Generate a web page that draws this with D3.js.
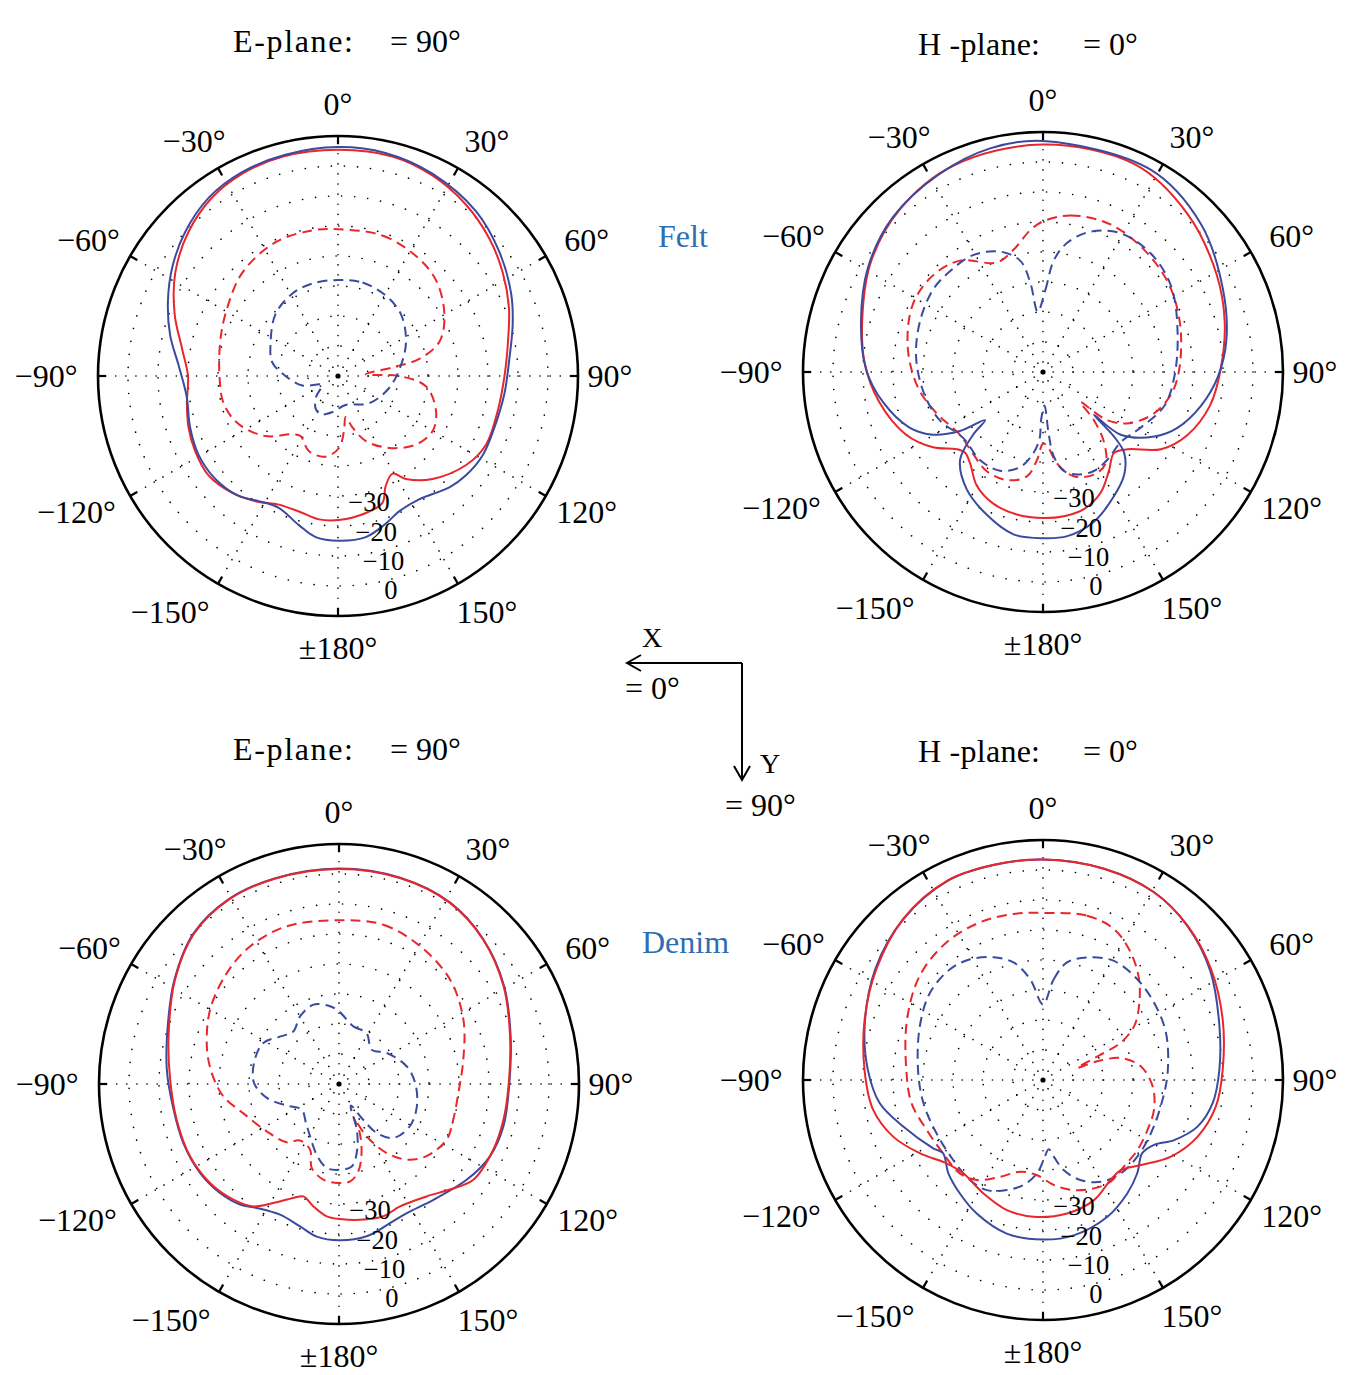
<!DOCTYPE html>
<html><head><meta charset="utf-8">
<script src="https://cdn.jsdelivr.net/npm/d3@7"></script>
<style>body{margin:0;background:#fff}svg{display:block}</style>
</head><body>
<svg id="chart" width="1364" height="1375"></svg>
<script>
// ---------- axis / tick data ----------
const dbDomain = [-70, 10];
const ringValues = [-60, -50, -40, -30, -20, -10, 0];
const ringLabelValues = [-30, -20, -10, 0];
const ringLabelText = ["\u221230", "\u221220", "\u221210", "0"];
const spokeAngles = [0, 30, 60, 90, 120, 150, 180, 210, 240, 270, 300, 330];
const spokeLabels = ["0\u00b0", "30\u00b0", "60\u00b0", "90\u00b0", "120\u00b0", "150\u00b0", "\u00b1180\u00b0", "\u2212150\u00b0", "\u2212120\u00b0", "\u221290\u00b0", "\u221260\u00b0", "\u221230\u00b0"];

// ---------- Felt, E-plane ----------
const feltE_redSolid_theta = [0,13.9,25.2,36.7,47.9,58.0,68.1,78.6,90,102.1,114.9,124.8,137.4,146.6,150.8,156.5,160.7,168.5,179.6,187.5,196.1,204.7,213.4,222.3,232.5,242.2,251.0,259.7,270,280,290.7,302.3,313.9,324.8,334.6,345.7];
const feltE_redSolid_dB = [5.4,5.4,3.9,1.3,-1.9,-5.2,-8.6,-12.2,-14.5,-15.5,-15.6,-18.0,-23.4,-28.9,-32.7,-30.1,-25.2,-23.4,-22.0,-21.8,-23.0,-22.8,-20.0,-17.4,-15.6,-16.2,-17.3,-18.8,-20.0,-17.2,-11.8,-5.8,-0.8,2.8,4.6,5.4];
const feltE_blueSolid_theta = [0,12,25.0,40.0,52.6,64.6,73.6,84.3,95.9,108.2,118.6,127.8,135,146.7,155.7,162.0,170.2,179.7,187.9,194.7,204.2,212.4,219.6,230,240.5,250.8,262.2,273.7,283.7,293.9,303.6,313.3,324,334.8,346.6];
const feltE_blueSolid_dB = [6.3,6.0,4.4,1.6,-2.2,-6.1,-9.3,-12.6,-14.2,-15.1,-15.0,-16.0,-17.5,-20.8,-20.5,-18.3,-15.5,-15.1,-15.8,-18.6,-21.8,-20.6,-18.1,-16.6,-16.6,-17.8,-19.1,-16.8,-12.4,-8.0,-3.8,0.0,3.4,5.1,5.8];
const feltE_redDash_theta = [0,17.5,33.0,45.6,59.9,71.3,78.1,81.0,86.5,90,96.7,109.3,120.2,131.4,144.6,156.8,164.3,169.4,173.8,179.2,188.8,201.1,212,218.2,230.4,244.2,256.5,270,286.3,298.7,317,335,350];
const feltE_redDash_dB = [-21.1,-20.9,-22.3,-24.3,-29.0,-34.3,-42.3,-51.6,-60.7,-49.6,-40.5,-35.4,-33.5,-35.4,-40.6,-46.4,-52.2,-56.1,-51.6,-46.0,-42.8,-43.1,-46.4,-45.3,-38.6,-33.2,-30.8,-30.5,-29.1,-27.2,-23.1,-20.8,-20.7];
const feltE_blueDash_theta = [0,14.7,30.6,45.5,63.2,80.7,103.2,131.3,165.2,189,204.3,214.4,226.6,241.4,255,270,281.8,297,314.7,330.9,344.5];
const feltE_blueDash_dB = [-38.0,-37.8,-38.8,-40.6,-44.6,-48.8,-52.5,-56.2,-60.0,-57.8,-56.0,-56.8,-60.0,-63.8,-57.7,-52.5,-47.6,-44.8,-40.7,-38.6,-38.0];

// ---------- Felt, H-plane ----------
const feltH_redSolid_theta = [0,23.9,42.4,60.6,74.7,89.2,101.3,113.4,123.2,132.4,138.7,146.3,154.5,163.4,171.8,179.7,190.4,200.7,210.3,218.5,224,228.2,235.6,245.4,259.6,273.2,288.5,302.9,318.5,336.6];
const feltH_redSolid_dB = [5.8,5.7,1.4,-3.6,-7.2,-10.8,-13.2,-17.4,-23.0,-31.8,-34.1,-30.4,-25.4,-22.3,-21.4,-21.3,-21.7,-23.1,-26.2,-31.0,-32.6,-31.4,-25.6,-19.8,-14.5,-10.4,-6.6,-1.8,2.2,5.0];
const feltH_blueSolid_theta = [0,27.9,47.0,65.4,80.3,91.6,102,112.4,120.1,128.9,130,132.3,134.9,141.6,150.3,161.2,171.6,179.8,190.3,201.6,213.1,223.3,228.1,230.3,234.6,240.3,247.4,259.4,270.9,285.3,300.7,315.9,332.5,346.7];
const feltH_blueSolid_dB = [7.0,6.4,2.1,-4.0,-8.0,-11.7,-16.1,-21.4,-27.1,-36.7,-47.8,-38.0,-31.8,-26.4,-22.3,-17.3,-14.7,-14.6,-15.0,-18.9,-23.4,-29.7,-38.7,-44.9,-36.0,-27.8,-21.8,-15.7,-11.0,-7.1,-2.1,1.9,4.5,6.6];
const feltH_redDash_theta = [0,10,24.6,41.4,57.3,75.7,96.8,110.2,120.7,126.9,128.7,133.5,139,145.7,153.6,163.6,171.2,176.8,180,183.9,188.8,198.5,209.7,223.4,233,249,262.9,280.2,297.5,311.3,323.3,337.1,346.4,354.9];
const feltH_redDash_dB = [-19.8,-17.0,-15.9,-17.3,-19.2,-22.5,-25.9,-30.4,-36.6,-43.2,-54.0,-46.6,-39.0,-33.0,-31.8,-33.8,-39.1,-45.4,-46.1,-40.6,-34.8,-32.0,-32.0,-34.6,-35.3,-31.9,-28.0,-24.2,-21.1,-21.2,-23.7,-30.4,-28.1,-22.5];
const feltH_blueDash_theta = [355,1.7,5.5,10.6,18.7,29.3,42.3,56.2,73.9,92.1,105.5,119.5,132,143.9,152.8,161.6,168.1,172.7,174.7,177.5,182.3,182.9,186.6,193.5,203.5,215.6,230.3,245,259.1,276,291.9,306.8,317.1,329.1,340.4,348.4,351.9];
const feltH_blueDash_dB = [-49.8,-42.6,-32.7,-26.2,-20.6,-17.0,-16.6,-18.6,-23.3,-26.2,-28.0,-32.5,-35.1,-33.7,-32.9,-34.0,-36.3,-41.6,-49.0,-58.8,-53.9,-47.9,-42.9,-37.4,-34.1,-33.9,-35.5,-32.0,-29.8,-27.5,-25.7,-24.2,-24.3,-24.6,-27.4,-32.1,-39.8];

// ---------- Denim, E-plane ----------
const denimE_redSolid_theta = [0,16.5,31.5,45,59.3,74.4,90.8,102.3,113.1,125.5,133.6,142.1,153.5,161.4,171.2,179.6,185.3,191.8,197.6,201.8,208.9,215,222.4,232.5,244.1,257.6,271.5,285.6,302.5,316,329.1,342.6];
const denimE_redSolid_dB = [1.7,1.6,0.8,-2.0,-6.2,-10.8,-13.5,-13.9,-14.1,-15.0,-19.0,-22.5,-24.4,-23.5,-24.2,-25.0,-25.7,-28.3,-30.7,-29.1,-24.7,-20.2,-17.8,-15.8,-14.8,-14.6,-13.7,-11.0,-5.2,-0.4,1.6,1.7];
const denimE_blueSolid_theta = [0,16.5,31.5,45,59.3,74.4,90.8,104.4,115.6,126.9,140.8,152.3,159.9,169.7,180,188.3,195.3,204.3,213.6,219.4,227.5,237.4,249.2,261.2,274.8,290.6,302.5,316,329.1,342.6];
const denimE_blueSolid_dB = [1.8,1.7,0.9,-1.9,-6.0,-10.6,-13.3,-13.4,-14.2,-16.8,-20.2,-21.4,-20.6,-18.4,-17.9,-18.6,-20.8,-22.2,-20.4,-18.0,-16.2,-15.0,-14.5,-14.2,-12.4,-9.2,-5.0,-0.2,1.7,1.8];
const denimE_redDash_theta = [0,15.6,30.5,46.8,62.6,79,94.3,107.4,117.3,129.5,138.2,145.3,152.2,156.4,156.7,161.9,167.5,173.5,180.4,189.3,198,203.8,214.7,221.9,236.8,253.1,264,275,285.9,300,314.7,327.1,341.6];
const denimE_redDash_dB = [-15.4,-14.9,-16.7,-19.2,-23.3,-27.8,-30.1,-30.1,-29.6,-32.2,-36.2,-42.0,-50.3,-58.0,-52.8,-45.8,-40.2,-37.3,-37.0,-37.7,-40.6,-46.1,-47.1,-43.9,-41.2,-36.6,-31.2,-27.4,-24.2,-20.4,-17.4,-15.4,-14.6];
const denimE_blueDash_theta = [0,14,28.4,43.6,57,75.3,89.3,106,120.8,134.9,142.4,145.9,151.4,158.7,164.5,171.2,180,188.3,197.6,209,220,235.6,247.6,259.1,270.6,283.9,298.5,309.8,319,330,342.1,353.4];
const denimE_blueDash_dB = [-45.8,-50.2,-50.7,-54.2,-51.0,-46.7,-44.6,-43.0,-42.5,-44.5,-49.4,-55.6,-61.8,-53.7,-47.3,-42.2,-41.4,-41.7,-45.3,-50.1,-52.9,-54.9,-51.1,-45.5,-41.7,-40.8,-41.3,-45.1,-46.8,-44.0,-42.2,-43.9];

// ---------- Denim, H-plane ----------
const denimH_redSolid_theta = [0,16.1,30.6,43.1,56.6,71.4,86.7,98.7,110.1,120.9,131,139.2,145.9,157,169.8,183.9,195.5,207.7,220.5,229.2,239.3,249.3,260.1,273.3,288.8,303.6,319,334.4,347.1];
const denimH_redSolid_dB = [3.5,3.3,2.7,0.5,-2.9,-6.8,-10.0,-11.7,-15.1,-20.3,-26.8,-30.3,-29.8,-26.5,-24.8,-24.3,-25.0,-27.3,-29.1,-27.5,-22.2,-16.6,-12.5,-10.4,-7.2,-3.3,1.1,3.7,3.6];
const denimH_blueSolid_theta = [0,16.1,30.6,43.1,56.8,73,86.6,97.7,106.8,114.6,120.3,126.4,134.7,143.4,154.8,168.8,180,193.3,206.4,216.2,225.4,233.8,238.1,251.6,262,273.4,286.8,303.4,319,334.4,347.1];
const denimH_blueSolid_dB = [3.5,3.3,2.7,0.4,-3.4,-8.5,-11.1,-12.9,-16.2,-21.9,-27.1,-28.9,-25.8,-22.9,-19.6,-17.2,-16.8,-17.4,-20.3,-23.1,-25.7,-28.7,-26.9,-20.9,-15.0,-11.5,-7.9,-3.0,1.0,3.6,3.5];
const denimH_redDash_theta = [0,15,25.2,34.5,43.6,52.4,59.4,64.4,66,70.6,71,74.2,82,93.3,105,115.5,126.6,136.9,146.4,154.9,164.4,174.1,183.6,194,203.9,213.5,221.7,233.8,246.8,260,274.3,294,310.2,324.9,338.3,349.9];
const denimH_redDash_dB = [-14.3,-13.3,-14.4,-18.4,-23.6,-29.6,-34.7,-41.3,-47.8,-57.9,-50.9,-43.0,-37.1,-33.4,-31.7,-31.4,-30.8,-30.5,-29.3,-30.1,-31.9,-34.8,-38.2,-38.5,-34.7,-30.0,-28.3,-28.7,-27.8,-25.5,-24.3,-20.4,-16.2,-14.0,-13.4,-13.8];
const denimH_blueDash_theta = [0,6.1,11.5,19.8,30.8,43.1,55.2,69,86.8,102.6,116.3,129.1,140.2,150.5,159.5,167.1,172,175.3,179.5,183.7,190.5,198.2,207,216.1,228.3,243.4,259.1,274.7,293.6,307.7,320,328.9,338,345.9,352.8];
const denimH_blueDash_dB = [-44.8,-36.2,-30.0,-26.6,-23.8,-24.0,-24.9,-26.1,-28.4,-29.8,-29.9,-29.5,-29.5,-31.0,-34.4,-39.2,-44.2,-46.8,-43.4,-38.8,-34.4,-31.4,-28.8,-28.7,-29.9,-30.3,-29.4,-28.2,-25.2,-22.4,-21.8,-23.0,-25.9,-29.6,-36.2];

// ---------- styling / layout ----------
const SERIF = "'Liberation Serif','Times New Roman',serif";
const RED = "#e8262b", BLUE = "#3a4a9e", LABEL_BLUE = "#2f6eae";
const R = 240;
const FS = 32;
const RING_FS = 26.5;

const svg = d3.select("#chart");
const rad = d => d * Math.PI / 180;
const zip = (t, v) => t.map((a, i) => [a, v[i]]);

const panels = [
  {cx: 338, cy: 376, series: [
    [feltE_redDash_theta, feltE_redDash_dB, RED, true],
    [feltE_blueDash_theta, feltE_blueDash_dB, BLUE, true],
    [feltE_redSolid_theta, feltE_redSolid_dB, RED, false],
    [feltE_blueSolid_theta, feltE_blueSolid_dB, BLUE, false]]},
  {cx: 1043, cy: 372, series: [
    [feltH_redDash_theta, feltH_redDash_dB, RED, true],
    [feltH_blueDash_theta, feltH_blueDash_dB, BLUE, true],
    [feltH_redSolid_theta, feltH_redSolid_dB, RED, false],
    [feltH_blueSolid_theta, feltH_blueSolid_dB, BLUE, false]]},
  {cx: 339, cy: 1084, series: [
    [denimE_redDash_theta, denimE_redDash_dB, RED, true],
    [denimE_blueDash_theta, denimE_blueDash_dB, BLUE, true],
    [denimE_blueSolid_theta, denimE_blueSolid_dB, BLUE, false],
    [denimE_redSolid_theta, denimE_redSolid_dB, RED, false]]},
  {cx: 1043, cy: 1080, series: [
    [denimH_redDash_theta, denimH_redDash_dB, RED, true],
    [denimH_blueDash_theta, denimH_blueDash_dB, BLUE, true],
    [denimH_blueSolid_theta, denimH_blueSolid_dB, BLUE, false],
    [denimH_redSolid_theta, denimH_redSolid_dB, RED, false]]}
];

const rScale = d3.scaleLinear().domain(dbDomain).range([0, R]);

function labelPos(a) {
  const rr = 272;
  let x = rr * Math.sin(rad(a)), y = -rr * Math.cos(rad(a));
  if (a > 0 && a < 180 && a !== 90) x += 13;
  if (a > 180) x -= 8 + 0.2 * ((360 - a) - 30);
  return [x, y];
}

panels.forEach(p => {
  const g = svg.append("g").attr("transform", `translate(${p.cx},${p.cy})`);
  // dotted rings
  g.selectAll("circle.ring").data(ringValues).join("circle")
    .attr("class", "ring").attr("r", d => rScale(d))
    .attr("fill", "none").attr("stroke", "#000").attr("stroke-width", 1.6)
    .attr("stroke-dasharray", "0.1 13").attr("stroke-linecap", "round");
  // dotted spokes
  g.selectAll("line.spoke").data(spokeAngles).join("line")
    .attr("class", "spoke")
    .attr("x1", 0).attr("y1", 0)
    .attr("x2", d => R * Math.sin(rad(d))).attr("y2", d => -R * Math.cos(rad(d)))
    .attr("stroke", "#000").attr("stroke-width", 1.6)
    .attr("stroke-dasharray", "0.1 10").attr("stroke-linecap", "round");
  // outer circle
  g.append("circle").attr("r", rScale(dbDomain[1])).attr("fill", "none")
    .attr("stroke", "#000").attr("stroke-width", 2.6);
  // ticks
  g.selectAll("line.tick").data(spokeAngles).join("line")
    .attr("class", "tick")
    .attr("x1", d => R * Math.sin(rad(d))).attr("y1", d => -R * Math.cos(rad(d)))
    .attr("x2", d => (R - 8) * Math.sin(rad(d))).attr("y2", d => -(R - 8) * Math.cos(rad(d)))
    .attr("stroke", "#000").attr("stroke-width", 2.2);
  // centre dot
  g.append("circle").attr("r", 2.6).attr("fill", "#000");

  // series
  const line = d3.lineRadial()
    .angle(d => rad(d[0])).radius(d => rScale(d[1]))
    .curve(d3.curveCatmullRomClosed.alpha(0.5));
  p.series.forEach(([t, v, col, dashed]) => {
    g.append("path").attr("d", line(zip(t, v)))
      .attr("fill", "none").attr("stroke", col).attr("stroke-width", 2)
      .attr("stroke-dasharray", dashed ? "10 6" : null)
      .attr("stroke-linejoin", "round");
  });

  // angle labels
  g.selectAll("text.ang").data(spokeAngles).join("text")
    .attr("class", "ang")
    .attr("x", d => labelPos(d)[0]).attr("y", d => labelPos(d)[1])
    .attr("dy", "0.35em").attr("text-anchor", "middle")
    .attr("font-family", SERIF).attr("font-size", FS)
    .text((d, i) => spokeLabels[i]);

  // ring labels along 166°
  g.selectAll("text.rl").data(ringLabelValues).join("text")
    .attr("class", "rl")
    .attr("x", d => rScale(d) * Math.sin(rad(166)) + 2)
    .attr("y", d => -rScale(d) * Math.cos(rad(166)) + 19)
    .attr("text-anchor", "middle")
    .attr("font-family", SERIF).attr("font-size", RING_FS)
    .text((d, i) => ringLabelText[i]);
});

// ---------- titles ----------
function title(x, planeText, planeLen, xEq, eqText, y) {
  svg.append("text").attr("x", x).attr("y", y).attr("font-family", SERIF)
    .attr("font-size", FS).attr("textLength", planeLen).attr("lengthAdjust", "spacing").text(planeText);
  svg.append("text").attr("x", xEq).attr("y", y).attr("font-family", SERIF)
    .attr("font-size", FS).text(eqText);
}
title(233, "E-plane:", 120, 390, "= 90\u00b0", 52);
title(918, "H -plane:", 122, 1083, "= 0\u00b0", 55);
title(233, "E-plane:", 120, 390, "= 90\u00b0", 760);
title(918, "H -plane:", 122, 1083, "= 0\u00b0", 762);

// material labels
svg.append("text").attr("x", 658).attr("y", 247).attr("font-family", SERIF)
  .attr("font-size", FS).attr("fill", LABEL_BLUE).text("Felt");
svg.append("text").attr("x", 642).attr("y", 953).attr("font-family", SERIF)
  .attr("font-size", FS).attr("fill", LABEL_BLUE).text("Denim");

// ---------- coordinate system sketch ----------
const ax = svg.append("g").attr("stroke", "#000").attr("stroke-width", 2).attr("fill", "none");
ax.append("path").attr("d", "M742,663 L627,663 M641,655 L627,663 L641,671");
ax.append("path").attr("d", "M742,663 L742,780 M734,766 L742,780 L750,766");
svg.append("text").attr("x", 652).attr("y", 647).attr("text-anchor", "middle")
  .attr("font-family", SERIF).attr("font-size", 28).text("X");
svg.append("text").attr("x", 625).attr("y", 699).attr("font-family", SERIF)
  .attr("font-size", FS).text("= 0\u00b0");
svg.append("text").attr("x", 770).attr("y", 773).attr("text-anchor", "middle")
  .attr("font-family", SERIF).attr("font-size", 28).text("Y");
svg.append("text").attr("x", 725).attr("y", 816).attr("font-family", SERIF)
  .attr("font-size", FS).text("= 90\u00b0");
</script>
</body></html>
